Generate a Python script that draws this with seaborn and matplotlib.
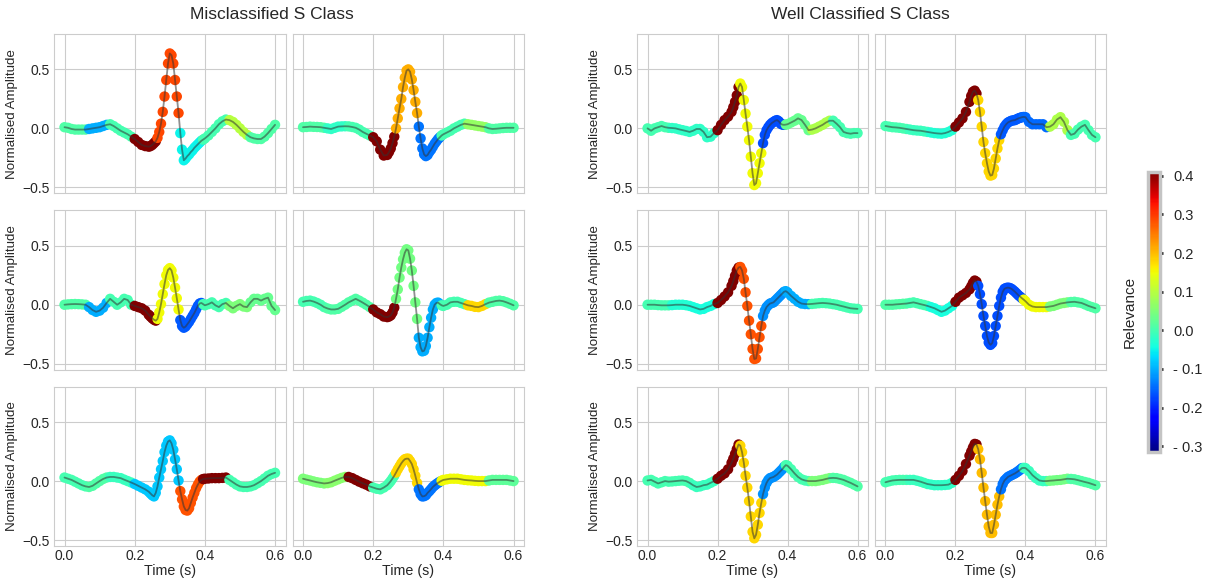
import numpy as np
import pandas as pd
import matplotlib
matplotlib.use('Agg')
import matplotlib.pyplot as plt
from matplotlib.colors import Normalize
from matplotlib.cm import ScalarMappable
import seaborn as sns

# sampling grid (s): 10 ms outside the QRS, 5 ms around it
time_s = np.round(np.r_[np.arange(24) * 0.01, 0.24 + np.arange(32) * 0.005, 0.40 + np.arange(21) * 0.01], 3)

# ---- Misclassified S class beats (normalised amplitude) ----
mis_1 = ([0.01, 0.005, -0.005, -0.01, -0.01, -0.01, -0.01, -0.005, 0.0, 0.005, 0.01, 0.02, 0.03, 0.035, 0.02, 0.0, -0.02, -0.035, -0.05, -0.07, -0.09, -0.115, -0.14, -0.15]
         + [-0.155, -0.15, -0.14, -0.125, -0.11, -0.08, -0.03, 0.04, 0.14, 0.27, 0.41, 0.55, 0.635, 0.62, 0.55, 0.41,
            0.27, 0.13, -0.04, -0.18, -0.27, -0.255, -0.235, -0.22, -0.2, -0.185, -0.165, -0.15, -0.135, -0.12, -0.105, -0.095]
         + [-0.085, -0.06, -0.03, 0.0, 0.035, 0.06, 0.075, 0.07, 0.055, 0.03, 0.0, -0.03, -0.055, -0.075, -0.085, -0.09, -0.09, -0.07, -0.04, -0.005, 0.03])
mis_2 = ([0.01, 0.012, 0.015, 0.013, 0.012, 0.01, 0.005, 0.0, -0.005, 0.005, 0.015, 0.017, 0.018, 0.017, 0.012, 0.005, -0.01, -0.03, -0.045, -0.06, -0.075, -0.11, -0.18, -0.23]
         + [-0.225, -0.2, -0.17, -0.125, -0.07, 0.0, 0.085, 0.17, 0.25, 0.35, 0.43, 0.49, 0.5, 0.48, 0.415, 0.325,
            0.225, 0.13, 0.015, -0.085, -0.17, -0.22, -0.235, -0.225, -0.2, -0.18, -0.155, -0.13, -0.11, -0.09, -0.075, -0.06]
         + [-0.05, -0.035, -0.02, 0.0, 0.015, 0.03, 0.04, 0.035, 0.03, 0.025, 0.02, 0.015, 0.01, 0.0, -0.005, -0.003, 0.0, 0.003, 0.005, 0.005, 0.005])
mis_3 = ([0.0, 0.003, 0.005, 0.006, 0.005, 0.003, 0.0, -0.02, -0.045, -0.06, -0.05, -0.025, 0.015, 0.05, 0.025, 0.0, 0.02, 0.05, 0.04, 0.0, -0.01, -0.02, -0.03, -0.05]
         + [-0.085, -0.1, -0.115, -0.127, -0.135, -0.12, -0.065, 0.005, 0.09, 0.175, 0.25, 0.295, 0.31, 0.29, 0.23, 0.145,
            0.055, -0.04, -0.13, -0.18, -0.195, -0.185, -0.165, -0.145, -0.12, -0.095, -0.07, -0.04, -0.01, 0.01, 0.015, 0.005]
         + [-0.005, 0.005, 0.02, -0.005, -0.02, 0.005, 0.015, -0.01, -0.03, -0.01, 0.005, -0.015, -0.02, 0.02, 0.05, 0.05, 0.035, 0.05, 0.06, -0.01, -0.045])
mis_4 = ([0.025, 0.032, 0.035, 0.027, 0.015, 0.0, -0.02, -0.032, -0.04, -0.04, -0.035, -0.018, 0.0, 0.02, 0.035, 0.05, 0.035, 0.018, 0.0, -0.02, -0.04, -0.065, -0.08, -0.1]
         + [-0.105, -0.1, -0.09, -0.065, -0.025, 0.05, 0.13, 0.23, 0.315, 0.385, 0.44, 0.47, 0.46, 0.39, 0.29, 0.16,
            0.02, -0.12, -0.28, -0.36, -0.395, -0.39, -0.35, -0.28, -0.19, -0.11, -0.04, 0.0, 0.015, 0.018, 0.005, -0.005]
         + [-0.01, 0.0, 0.02, 0.025, 0.025, 0.015, 0.005, -0.005, -0.01, -0.018, -0.02, -0.01, 0.005, 0.018, 0.025, 0.032, 0.035, 0.03, 0.02, 0.008, -0.005])
mis_5 = ([0.03, 0.02, 0.01, -0.005, -0.02, -0.035, -0.045, -0.05, -0.04, -0.02, 0.0, 0.018, 0.03, 0.035, 0.035, 0.03, 0.025, 0.012, 0.0, -0.012, -0.025, -0.04, -0.055, -0.07]
         + [-0.09, -0.105, -0.12, -0.13, -0.1, -0.045, 0.03, 0.1, 0.17, 0.245, 0.3, 0.335, 0.345, 0.32, 0.265, 0.185,
            0.1, 0.005, -0.085, -0.155, -0.215, -0.245, -0.25, -0.23, -0.185, -0.14, -0.1, -0.06, -0.03, -0.005, 0.01, 0.017]
         + [0.02, 0.022, 0.025, 0.025, 0.025, 0.027, 0.03, 0.01, -0.01, -0.03, -0.045, -0.05, -0.05, -0.045, -0.035, -0.018, 0.0, 0.022, 0.045, 0.06, 0.07])
mis_6 = ([0.02, 0.012, 0.005, -0.003, -0.01, -0.015, -0.02, -0.017, -0.01, 0.003, 0.015, 0.027, 0.035, 0.035, 0.025, 0.01, -0.005, -0.018, -0.03, -0.045, -0.055, -0.065, -0.07, -0.055]
         + [-0.035, -0.018, 0.0, 0.022, 0.045, 0.072, 0.1, 0.125, 0.15, 0.17, 0.185, 0.19, 0.19, 0.17, 0.145, 0.1,
            0.045, -0.015, -0.07, -0.11, -0.13, -0.128, -0.12, -0.1, -0.085, -0.068, -0.05, -0.037, -0.025, -0.015, -0.005, 0.003]
         + [0.01, 0.015, 0.02, 0.02, 0.02, 0.015, 0.01, 0.007, 0.005, 0.002, 0.0, 0.0, 0.0, 0.005, 0.01, 0.01, 0.01, 0.01, 0.01, 0.005, 0.0])

# ---- Well classified S class beats ----
well_1 = ([0.0, -0.02, 0.0, 0.01, 0.02, 0.01, 0.005, 0.003, 0.0, -0.008, -0.015, -0.022, -0.03, -0.02, -0.005, -0.005, -0.03, -0.075, -0.07, -0.04, -0.015, 0.03, 0.07, 0.1]
          + [0.14, 0.18, 0.225, 0.28, 0.35, 0.38, 0.35, 0.24, 0.125, 0.015, -0.1, -0.24, -0.38, -0.48, -0.465, -0.38,
             -0.295, -0.21, -0.125, -0.055, -0.015, 0.01, 0.03, 0.045, 0.055, 0.065, 0.07, 0.06, 0.04, 0.032, 0.03, 0.032]
          + [0.035, 0.05, 0.065, 0.085, 0.07, 0.03, -0.015, -0.01, 0.0, 0.015, 0.03, 0.05, 0.065, 0.065, 0.04, 0.01, -0.03, -0.04, -0.045, -0.04, -0.04])
well_2 = ([0.02, 0.015, 0.01, 0.008, 0.005, 0.0, -0.005, -0.01, -0.015, -0.018, -0.02, -0.025, -0.03, -0.035, -0.04, -0.043, -0.045, -0.04, -0.03, -0.015, 0.015, 0.05, 0.085, 0.14]
          + [0.225, 0.275, 0.31, 0.32, 0.295, 0.24, 0.14, 0.015, -0.115, -0.21, -0.295, -0.365, -0.4, -0.395, -0.34, -0.255,
             -0.17, -0.1, -0.05, -0.015, 0.015, 0.035, 0.05, 0.058, 0.065, 0.068, 0.07, 0.078, 0.085, 0.09, 0.095, 0.097]
          + [0.095, 0.055, 0.035, 0.035, 0.035, 0.035, 0.01, 0.015, 0.035, 0.075, 0.095, 0.055, -0.015, -0.055, -0.045, -0.01, 0.015, 0.03, -0.015, -0.055, -0.075])
well_3 = ([0.0, 0.0, 0.0, -0.003, -0.005, -0.005, -0.005, -0.003, 0.0, 0.0, 0.0, -0.004, -0.01, -0.02, -0.03, -0.04, -0.035, -0.02, -0.01, 0.005, 0.015, 0.04, 0.07, 0.105]
          + [0.16, 0.2, 0.245, 0.29, 0.315, 0.32, 0.29, 0.22, 0.105, -0.01, -0.135, -0.25, -0.375, -0.46, -0.455, -0.375,
             -0.275, -0.18, -0.095, -0.05, -0.02, -0.003, 0.01, 0.015, 0.02, 0.035, 0.05, 0.065, 0.08, 0.095, 0.11, 0.115]
          + [0.105, 0.075, 0.05, 0.025, 0.01, 0.006, 0.005, 0.007, 0.01, 0.013, 0.015, 0.013, 0.01, 0.005, 0.0, -0.008, -0.015, -0.023, -0.03, -0.033, -0.035])
well_4 = ([0.0, 0.0, 0.0, 0.003, 0.005, 0.008, 0.01, 0.015, 0.02, 0.013, 0.005, -0.002, -0.01, -0.02, -0.03, -0.045, -0.06, -0.05, -0.03, -0.01, 0.025, 0.06, 0.08, 0.1]
          + [0.13, 0.155, 0.185, 0.205, 0.195, 0.16, 0.09, 0.005, -0.095, -0.18, -0.265, -0.32, -0.34, -0.325, -0.265, -0.18,
             -0.095, -0.01, 0.06, 0.11, 0.135, 0.142, 0.145, 0.142, 0.135, 0.123, 0.11, 0.095, 0.08, 0.068, 0.055, 0.043]
          + [0.03, 0.0, -0.015, -0.02, -0.02, -0.02, -0.02, -0.015, -0.01, 0.0, 0.01, 0.015, 0.02, 0.023, 0.025, 0.02, 0.015, 0.003, -0.01, -0.02, -0.03])
well_5 = ([0.005, 0.01, -0.005, -0.02, -0.01, 0.0, -0.005, -0.003, 0.0, 0.003, 0.005, 0.0, -0.015, -0.035, -0.05, -0.045, -0.035, -0.03, -0.015, 0.0, 0.02, 0.045, 0.065, 0.1]
          + [0.155, 0.19, 0.23, 0.27, 0.31, 0.3, 0.245, 0.155, 0.045, -0.055, -0.17, -0.3, -0.43, -0.485, -0.455, -0.37,
             -0.27, -0.185, -0.11, -0.055, -0.015, 0.01, 0.025, 0.03, 0.035, 0.045, 0.055, 0.07, 0.085, 0.1, 0.12, 0.135]
          + [0.13, 0.1, 0.065, 0.035, 0.015, 0.005, 0.0, 0.0, 0.0, 0.005, 0.01, 0.018, 0.025, 0.027, 0.025, 0.018, 0.01, -0.003, -0.015, -0.03, -0.045])
well_6 = ([-0.01, -0.002, 0.005, 0.008, 0.01, 0.01, 0.01, 0.01, 0.01, 0.003, -0.005, -0.015, -0.025, -0.03, -0.035, -0.035, -0.035, -0.033, -0.03, -0.015, 0.01, 0.045, 0.085, 0.145]
          + [0.215, 0.25, 0.285, 0.315, 0.31, 0.27, 0.185, 0.07, -0.055, -0.17, -0.285, -0.385, -0.44, -0.44, -0.37, -0.285,
             -0.2, -0.13, -0.07, -0.025, 0.005, 0.02, 0.035, 0.043, 0.05, 0.058, 0.065, 0.075, 0.085, 0.097, 0.11, 0.112]
          + [0.11, 0.085, 0.05, 0.025, 0.005, 0.0, 0.0, 0.003, 0.005, 0.008, 0.01, 0.015, 0.02, 0.018, 0.015, 0.008, 0.0, -0.008, -0.015, -0.025, -0.035])

# relevance per window; window edges (s)
window_edges = [0.063, 0.129, 0.196, 0.262, 0.329, 0.395, 0.461, 0.528]
mis_1_rel = [0.01, -0.1, 0.0, 0.41, 0.29, -0.05, 0.0, 0.1, 0.01]
mis_2_rel = [0.01, -0.02, 0.0, 0.41, 0.21, -0.14, 0.0, 0.07, 0.01]
mis_3_rel = [0.01, -0.1, 0.0, 0.41, 0.15, -0.16, 0.0, 0.05, 0.03]
mis_4_rel = [0.0, 0.01, 0.01, 0.41, 0.04, -0.1, 0.0, 0.18, 0.01]
mis_5_rel = [0.0, 0.01, -0.01, -0.08, -0.08, 0.28, 0.41, 0.0, 0.0]
mis_6_rel = [0.05, 0.06, 0.41, 0.0, 0.18, -0.14, 0.15, 0.15, 0.02]
well_1_rel = [0.0, -0.02, -0.02, 0.41, 0.15, -0.17, 0.03, 0.09, 0.0]
well_2_rel = [0.0, -0.01, -0.03, 0.41, 0.18, -0.16, -0.15, 0.09, 0.0]
well_3_rel = [0.0, -0.03, -0.04, 0.41, 0.28, -0.12, -0.1, 0.0, 0.0]
well_4_rel = [0.01, 0.0, -0.04, 0.41, -0.17, -0.17, 0.15, 0.05, 0.01]
well_5_rel = [0.0, 0.0, -0.01, 0.41, 0.18, -0.12, 0.0, 0.05, 0.01]
well_6_rel = [0.0, -0.01, -0.02, 0.41, 0.2, -0.14, -0.01, 0.04, 0.01]

cbar_ticks = [0.4, 0.3, 0.2, 0.1, 0.0, -0.1, -0.2, -0.3]

mis_beats = [(mis_1, mis_1_rel), (mis_2, mis_2_rel), (mis_3, mis_3_rel),
             (mis_4, mis_4_rel), (mis_5, mis_5_rel), (mis_6, mis_6_rel)]
well_beats = [(well_1, well_1_rel), (well_2, well_2_rel), (well_3, well_3_rel),
              (well_4, well_4_rel), (well_5, well_5_rel), (well_6, well_6_rel)]

sns.set_style('whitegrid')
plt.rcParams['font.family'] = ['Liberation Sans', 'DejaVu Sans']

jet = matplotlib.colormaps['jet']
norm = Normalize(vmin=-0.315, vmax=0.41)
window = np.searchsorted(window_edges, time_s, side='right')

fig = plt.figure(figsize=(12.16, 5.83), dpi=100)
gs_left = fig.add_gridspec(3, 2, left=0.0444, right=0.431, top=0.9417, bottom=0.0635, wspace=0.03, hspace=0.107)
gs_right = fig.add_gridspec(3, 2, left=0.5239, right=0.9095, top=0.9417, bottom=0.0635, wspace=0.03, hspace=0.107)


def draw_beat(ax, amp, rel):
    df = pd.DataFrame({'t': time_s, 'amp': amp, 'rel': np.array(rel)[window]})
    sns.scatterplot(data=df, x='t', y='amp', hue='rel', palette=jet, hue_norm=norm,
                    s=56, linewidth=0, legend=False, ax=ax, zorder=2)
    sns.lineplot(data=df, x='t', y='amp', color='#333333', alpha=0.55, lw=1.3,
                 sort=False, ax=ax, zorder=3)


for gs, beats in [(gs_left, mis_beats), (gs_right, well_beats)]:
    for i, (amp, rel) in enumerate(beats):
        r, c = divmod(i, 2)
        ax = fig.add_subplot(gs[r, c])
        draw_beat(ax, amp, rel)
        ax.set_xlim(-0.03, 0.63)
        ax.set_ylim(-0.55, 0.8)
        ax.set_xticks([0.0, 0.2, 0.4, 0.6])
        ax.set_yticks([-0.5, 0.0, 0.5])
        ax.tick_params(axis='x', labelsize=10, pad=2, length=0)
        ax.tick_params(axis='y', labelsize=10, pad=3, length=0)
        ax.set_xlabel('Time (s)' if r == 2 else '', fontsize=10.3, labelpad=1)
        ax.set_ylabel('Normalised Amplitude' if c == 0 else '', fontsize=9.6, labelpad=3)
        if r < 2:
            ax.set_xticklabels([])
        if c == 1:
            ax.set_yticklabels([])

fig.text(272 / 1216, 0.975, 'Misclassified S Class', ha='center', va='center', fontsize=12.5)
fig.text(860 / 1216, 0.975, 'Well Classified S Class', ha='center', va='center', fontsize=12.5)

cax = fig.add_axes([1148 / 1216, 1 - 452 / 583, 12 / 1216, 280 / 583])
cb = fig.colorbar(ScalarMappable(norm=norm, cmap=jet), cax=cax)
cb.set_ticks(cbar_ticks)
cb.set_ticklabels([f'- {abs(v):.1f}' if v < 0 else f'{v:.1f}' for v in cbar_ticks])
cb.ax.tick_params(labelsize=10.5, length=2.5, width=2, color='#222222', pad=7, right=True)
cb.outline.set_edgecolor('#c4c4c4')
cb.outline.set_linewidth(2.5)
cb.set_label('Relevance', fontsize=11, labelpad=8)
cb.ax.yaxis.set_label_position('left')

plt.savefig('out.png', dpi=100)
